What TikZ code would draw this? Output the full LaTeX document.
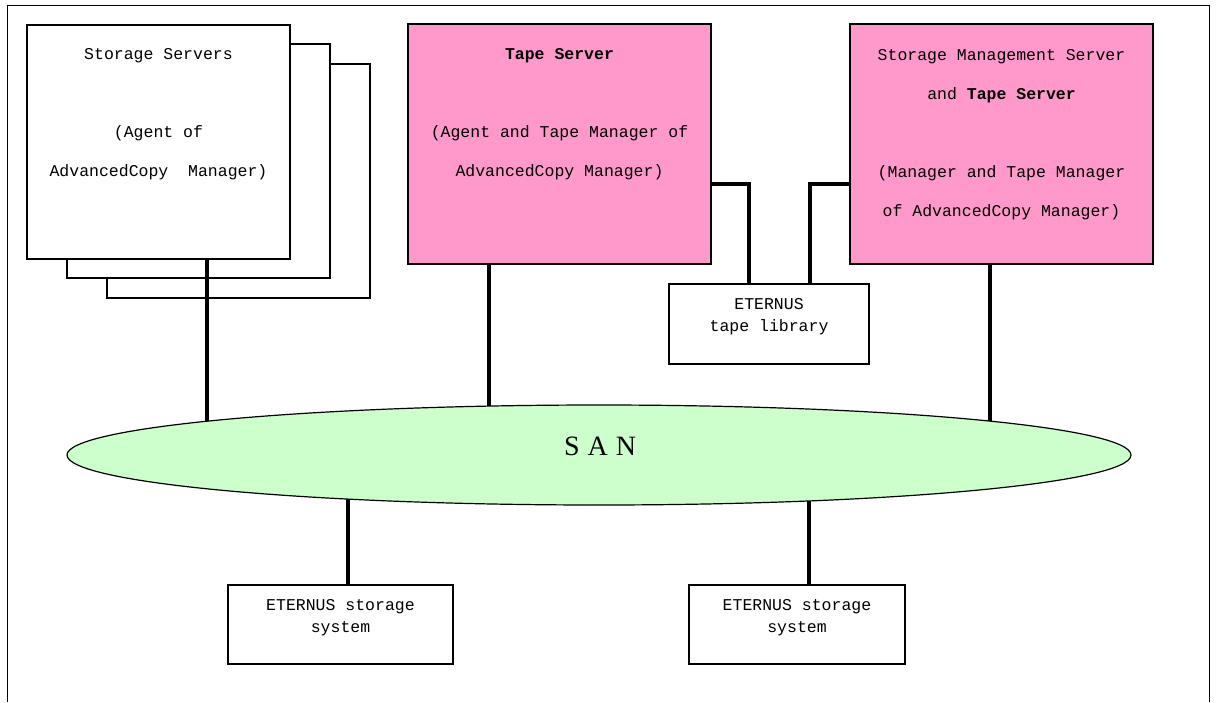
\documentclass[tikz,border=0pt]{standalone}
\usepackage{fontspec}
\setmainfont{Liberation Mono}
\newfontfamily\sanfont{Liberation Serif}
\usetikzlibrary{positioning,backgrounds,shapes.geometric}
\definecolor{tapepink}{HTML}{FF99CC}
\definecolor{sangreen}{HTML}{CCFFCC}
\pgfdeclarelayer{front}
\pgfsetlayers{background,main,front}
\tikzset{
  box/.style={draw, line width=1.2pt, fill=white, inner sep=0pt},
  tapebox/.style={box, fill=tapepink},
  txt/.style={align=center, inner sep=0pt, font=\fontsize{16.5}{39}\selectfont},
  smalltxt/.style={align=center, inner sep=0pt, font=\fontsize{16.5}{22.5}\selectfont},
  link/.style={line width=3.2pt},
}

\begin{document}
\begin{tikzpicture}[x=1pt,y=-1pt]
\useasboundingbox (0,0) rectangle (1217,702);

% outer frame, open at the bottom
\draw[line width=1.2pt] (7.5,702) -- (7.5,5.5) -- (1209.5,5.5) -- (1209.5,702);

% stacked storage servers
\foreach \i/\dx/\dy in {3/80/39,2/40/19,1/0/0}
\node[box, minimum width=263pt, minimum height=234pt] (srv\i) at (158.5+\dx,142+\dy) {};
\node[txt] (srvtxt) at ([yshift=28pt]srv1.center)
  {Storage Servers\\[39pt](Agent of\\AdvancedCopy~~Manager)};

% tape servers
\node[tapebox, minimum width=303pt, minimum height=240pt] (tape) at (559.5,144) {};
\node[txt] (tapetxt) at ([yshift=30pt]tape.center)
  {\textbf{Tape Server}\\[39pt](Agent and Tape Manager of\\AdvancedCopy Manager)};
\node[tapebox, minimum width=303pt, minimum height=240pt] (mgmt) at (1001.5,144) {};
\node[txt] (mgmttxt) at ([yshift=9pt]mgmt.center)
  {Storage Management Server\\and \textbf{Tape Server}\\[39pt](Manager and Tape Manager\\of AdvancedCopy Manager)};

% tape library
\node[box, minimum width=200pt, minimum height=80pt] (lib) at (769,324) {};
\node[smalltxt] (libtxt) at ([yshift=7.5pt]lib.center) {ETERNUS\\tape library};

% storage systems
\node[box, minimum width=225pt, minimum height=79pt] (sto1) at (340.5,624.5) {};
\node[smalltxt] (sto1txt) at ([yshift=7pt]sto1.center) {ETERNUS storage\\system};
\node[box, minimum width=216pt, minimum height=79pt] (sto2) at (797,624.5) {};
\node[smalltxt] (sto2txt) at ([yshift=7pt]sto2.center) {ETERNUS storage\\system};

% SAN on top of the links
\begin{pgfonlayer}{front}
\node[draw, ellipse, fill=sangreen, line width=1.2pt, inner sep=0pt,
  minimum width=1064pt, minimum height=100pt] (san) at (599,455) {};
\node[font=\sanfont\fontsize{28}{28}\selectfont, inner sep=0pt] (santxt) at (600,446)
  {S\hspace{8pt}A\hspace{8pt}N};
\end{pgfonlayer}

% links to the SAN
\draw[link] ([xshift=48.5pt]srv1.south) -- ([xshift=48.5pt]srv1.south |- san.center);
\draw[link] ([xshift=-70.5pt]tape.south) -- ([xshift=-70.5pt]tape.south |- san.center);
\draw[link] ([xshift=-11.5pt]mgmt.south) -- ([xshift=-11.5pt]mgmt.south |- san.center);
\draw[link] ([xshift=7.5pt]sto1.north) -- ([xshift=7.5pt]sto1.north |- san.center);
\draw[link] ([xshift=12pt]sto2.north) -- ([xshift=12pt]sto2.north |- san.center);

% links to the tape library
\draw[link] ([yshift=-40pt]tape.east) -| ([xshift=-20pt]lib.north);
\draw[link] ([yshift=-40pt]mgmt.west) -| ([xshift=41pt]lib.north);
\end{tikzpicture}
\end{document}
